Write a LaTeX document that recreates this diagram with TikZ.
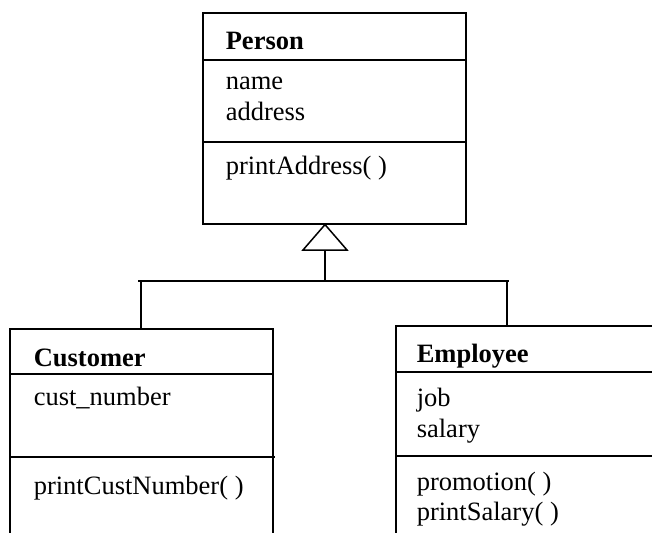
\documentclass[tikz,border=0pt]{standalone}
\usepackage{fontspec}
\setmainfont{Liberation Serif}
\begin{document}
\begin{tikzpicture}[x=1pt,y=-1pt,line width=1.6pt,
  classbox/.style={draw=black,line width=1.6pt,inner sep=0pt,anchor=north west},
  txt/.style={anchor=base west,inner sep=0pt,font=\fontsize{26.5}{31}\selectfont},
  hdr/.style={txt,font=\fontsize{26.5}{31}\selectfont\bfseries}]
\useasboundingbox (0,0) rectangle (652,532);
\clip (0,0) rectangle (652,532);
% Person
\node[classbox,minimum width=263pt,minimum height=211pt] (person) at (202,12) {};
\draw (202,60) -- (465,60);
\draw (202,142) -- (467,142);
\node[hdr] (pname) at (225,50) {Person};
\node[txt] (pa1) at (225,90) {name};
\node[txt] (pa2) at (225,121) {address};
\node[txt] (pm1) at (225,174) {printAddress( )};
% Customer
\node[classbox,minimum width=263pt,minimum height=220pt] (cust) at (9,328) {};
\draw (9,374) -- (272,374);
\draw (9,457) -- (275,457);
\node[hdr] (cname) at (33,366) {Customer};
\node[txt] (ca1) at (33,405) {cust\_number};
\node[txt] (cm1) at (33,494) {printCustNumber( )};
% Employee
\node[classbox,minimum width=280pt,minimum height=225pt] (emp) at (395,325) {};
\draw (395,372) -- (675,372);
\draw (395,456) -- (675,456);
\node[hdr] (ename) at (416,362) {Employee};
\node[txt] (ea1) at (416,406) {job};
\node[txt] (ea2) at (416,437) {salary};
\node[txt] (em1) at (416,490) {promotion( )};
\node[txt] (em2) at (416,520) {printSalary( )};
% Generalization
\coordinate (apex) at (person.south -| 325,0);
\coordinate (tb) at (325,250);
\coordinate (junc) at (325,281);
\draw[line width=1.5pt,fill=white] (apex) -- (303,250) -- (347,250) -- cycle;
\draw (tb) -- (junc);
\coordinate (jl) at (141,281);
\coordinate (jr) at (507,281);
\draw (138,281) -- (509,281);
\draw (jl) -- (cust.north -| jl);
\draw (jr) -- (emp.north -| jr);
\end{tikzpicture}
\end{document}
